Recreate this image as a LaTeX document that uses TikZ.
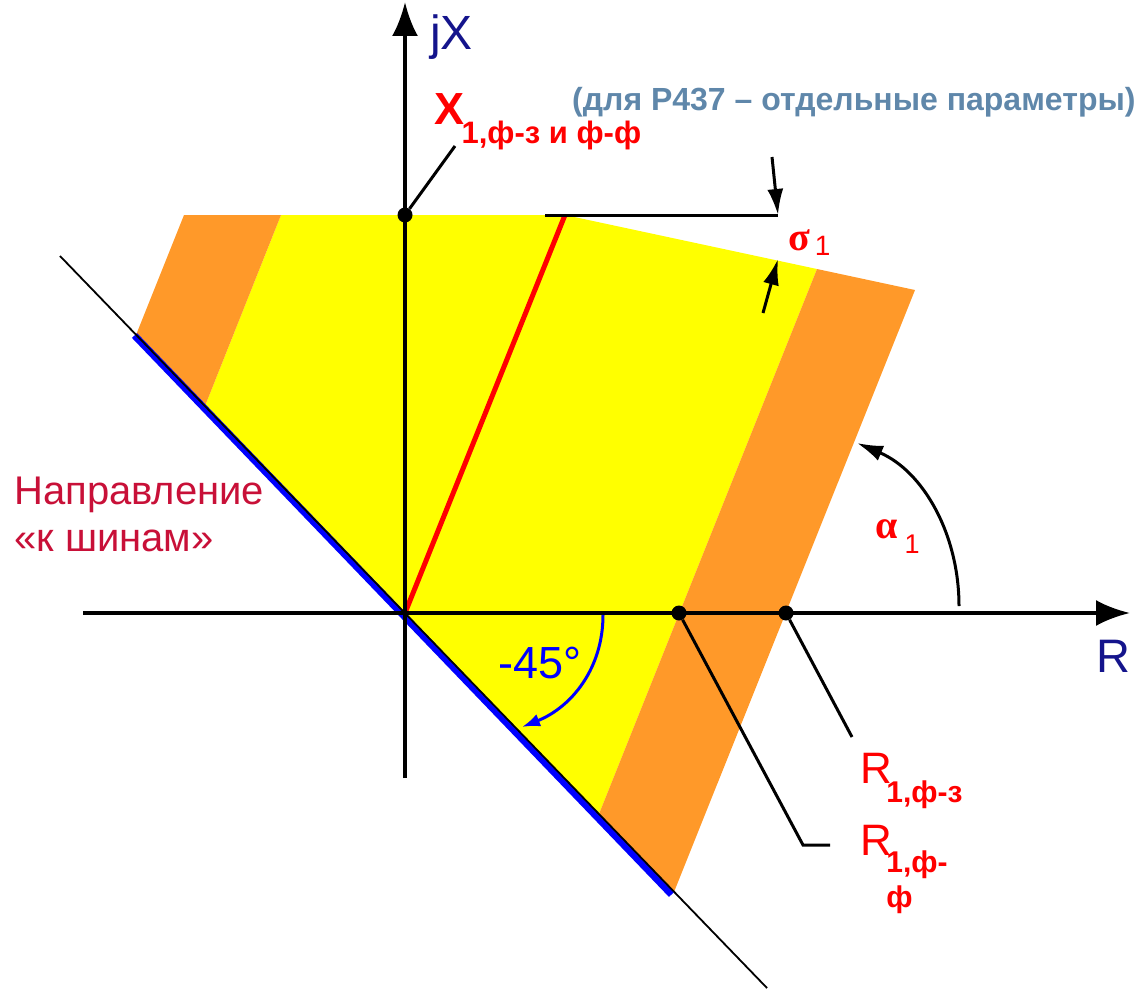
\documentclass[tikz,border=0pt]{standalone}
\usepackage{fontspec}
\setmainfont{Liberation Sans}
\newfontfamily\grek{Liberation Serif}
\usetikzlibrary{arrows.meta,positioning,calc}
\definecolor{zhelt}{RGB}{255,255,0}
\definecolor{oranzh}{RGB}{255,153,41}
\definecolor{temsin}{RGB}{20,20,140}
\definecolor{serosin}{RGB}{95,135,170}
\definecolor{malin}{RGB}{200,16,56}
\newcommand{\razm}[1]{\fontsize{#1}{#1}\selectfont}
\tikzset{
  os/.style={line width=4pt,-{Latex[length=34pt,width=26pt]}},
  tochka/.style={circle,fill,inner sep=0pt,minimum size=15pt},
  vyn/.style={line width=3pt},
  strelka/.style={line width=3pt,-{Latex[length=26pt,width=16pt]}},
  metka/.style={inner sep=0pt,anchor=base west},
  krasn/.style={metka,text=red},
}

\begin{document}
\begin{tikzpicture}[x=1pt,y=-1pt]
  \useasboundingbox (0,0) rectangle (1140,990);
  \coordinate (O) at (405,613);
  % зоны
  \fill[zhelt] (281,215) -- (565,215) -- (817,269) -- (599,814) -- (205,406) -- cycle;
  \fill[oranzh] (184,215) -- (281,215) -- (205,406) -- (136,335) -- cycle;
  \fill[oranzh] (817,269) -- (915,290) -- (674,892) -- (599,814) -- cycle;
  \coordinate (xr) at (565,215);
  \draw[red,line width=5pt] (O) -- (xr);
  % направление к шинам
  \coordinate (b1) at (137,333); \coordinate (b2) at (674,892);
  \draw[blue,line width=7pt] ([shift={(-2.5,2.5)}]b1) -- ([shift={(-2.5,2.5)}]b2);
  \coordinate (d1) at (60,256); \coordinate (d2) at (767,988);
  \draw[line width=1.8pt] (d1) -- (d2);
  % оси
  \coordinate (rl) at (83,613); \coordinate (rp) at (1130,613);
  \coordinate (xn) at (405,778); \coordinate (xv) at (405,2);
  \draw[os] (rl) -- (rp);
  \draw[os] (xn) -- (xv);
  \node[metka,text=temsin,font=\razm{48}] (jx) at (430,50) {jX};
  \node[metka,text=temsin,font=\razm{47}] (rr) at (1096,672) {R};
  % точки
  \node[tochka] (xt) at (405,215) {};
  \node[tochka] (rff) at (679,613) {};
  \node[tochka] (rfz) at (786,613) {};
  % уставка X
  \node[krasn,font=\bfseries\razm{45}] (xl) at (434,124) {X};
  \node[krasn,font=\bfseries\razm{31}] (xsub) at ($(xl.base east)+(-3,19)$) {1,ф-з и ф-ф};
  \coordinate (xk) at (455,146);
  \draw[vyn] (xt) -- (xk);
  \node[metka,text=serosin,font=\bfseries\razm{32}] (prim) at (572,110) {(для Р437 – отдельные параметры)};
  % сигма
  \coordinate (s1) at (545,215); \coordinate (s2) at (778,215);
  \draw[vyn] (s1) -- (s2);
  \coordinate (sv) at (772,157);
  \draw[strelka] (sv) -- (s2);
  \coordinate (sn) at (763,313); \coordinate (sk) at (778,259);
  \draw[strelka] (sn) -- (sk);
  \node[krasn] (sig) at (788,250) {{\grek\bfseries\razm{40}σ}\hspace{5pt}\raisebox{-5pt}{\razm{28}1}};
  % альфа
  \coordinate (a1) at (959,606); \coordinate (a2) at (857,443);
  \draw[strelka] (a1) .. controls (959,534) and (923,471) .. (a2);
  \node[krasn] (alf) at (875,538) {{\grek\bfseries\razm{40}α}\hspace{7pt}\raisebox{-15pt}{\razm{27}1}};
  % -45
  \coordinate (g1) at (603,615); \coordinate (g2) at (522,727);
  \draw[blue,line width=3pt,-{Latex[length=18pt,width=13pt]}] (g1) .. controls (603,668) and (572,707) .. (g2);
  \node[metka,text=blue,font=\razm{45}] (ugol) at (498,678) {-45°};
  % уставки R
  \coordinate (rzv) at (852,737);
  \draw[vyn] (rfz) -- (rzv);
  \coordinate (rfv) at (803,845); \coordinate (rfk) at (830,845);
  \draw[vyn] (rff) -- (rfv) -- (rfk);
  \node[krasn,font=\razm{44}] (r1) at (860,783) {R};
  \node[krasn,font=\bfseries\razm{30}] (r1sub) at ($(r1.base east)+(-6,19)$) {1,ф-з};
  \node[krasn,font=\razm{44}] (r2) at (860,855) {R};
  \node[krasn,font=\bfseries\razm{30}] (r2sub) at ($(r2.base east)+(-6,17)$) {1,ф-};
  \node[krasn,font=\bfseries\razm{30}] (r2sub2) at ($(r2sub.base west)+(0,35)$) {ф};
  \node[inner sep=0pt,anchor=north west,align=left,text=malin,font=\fontsize{40}{47}\selectfont] (napr) at (14,477) {Направление\\«к шинам»};
\end{tikzpicture}
\end{document}
